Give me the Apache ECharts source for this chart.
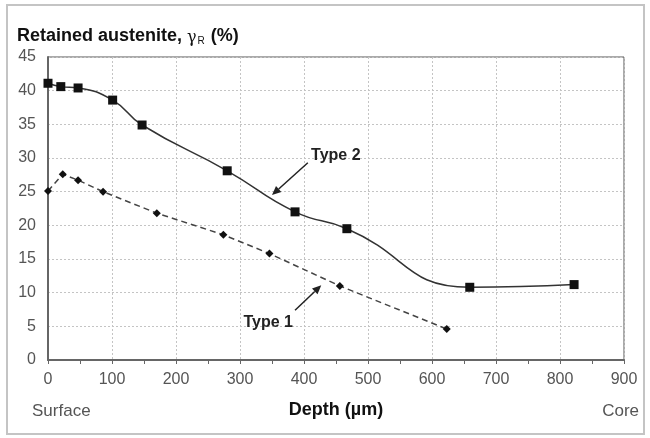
<!DOCTYPE html>
<html>
  <head>
    <meta charset="utf-8" />
    <title></title>
    <style type="text/css">
      html,
      body {
        margin: 0;
        width: 100%;
        height: 100%;
        background: #fff;
      }
      #chart {
        width: 650px;
        height: 438px;
      }
    </style>
  </head>
  <body>
    <div id="chart"></div>
    <script src="https://cdn.jsdelivr.net/npm/echarts@6/dist/echarts.min.js"></script>
    <script type="text/javascript">
      // 数据 (depth µm, retained austenite %)
      var type2Depth = [0, 20, 47, 101, 147, 280, 386, 467, 659, 822];
      var type2Value = [41.1, 40.6, 40.4, 38.6, 34.9, 28.1, 22.0, 19.5, 10.8, 11.2];
      var type1Depth = [0, 23, 47, 86, 170, 274, 346, 456, 623];
      var type1Value = [25.1, 27.6, 26.7, 25.0, 21.8, 18.6, 15.8, 11.0, 4.6];

      // 注释箭头 (数据坐标)
      var notes = [
        { text: "Type 2", label: [411, 30.4], from: [406, 29.3], to: [350, 24.5], align: "left" },
        { text: "Type 1", label: [344, 5.5], from: [386, 7.4], to: [427, 11.1], align: "center" },
      ];

      var fontFamily = "Liberation Sans, Arial, sans-serif";

      function pairs(xs, ys) {
        return xs.map(function (x, i) {
          return [x, ys[i]];
        });
      }

      var chart = echarts.init(document.getElementById("chart"));

      var option = {
        animation: false,
        backgroundColor: "#fff",
        grid: {
          left: 48,
          top: 57,
          right: 26,
          bottom: 78,
          show: true,
          borderColor: "#555",
          borderWidth: 1,
        },
        xAxis: {
          type: "value",
          min: 0,
          max: 900,
          interval: 100,
          axisLine: { onZero: false, lineStyle: { color: "#666", width: 2 } },
          axisTick: { show: true, length: 4, lineStyle: { color: "#666" } },
          minorTick: { show: true, splitNumber: 2, length: 4, lineStyle: { color: "#666" } },
          axisLabel: { color: "#555", fontSize: 16, margin: 12, fontFamily: fontFamily },
          splitLine: { show: true, lineStyle: { color: "#c4c4c4", type: [2, 2] } },
        },
        yAxis: {
          type: "value",
          min: 0,
          max: 45,
          interval: 5,
          axisLine: { onZero: false, lineStyle: { color: "#666", width: 2 } },
          axisTick: { show: false },
          axisLabel: { color: "#555", fontSize: 16, margin: 12, fontFamily: fontFamily },
          splitLine: { show: true, lineStyle: { color: "#c4c4c4", type: [2, 2] } },
        },
        series: [
          {
            name: "Type 2",
            type: "line",
            smooth: 0.5,
            data: pairs(type2Depth, type2Value),
            symbol: "rect",
            symbolSize: 9,
            itemStyle: { color: "#111" },
            lineStyle: { color: "#333", width: 1.5 },
          },
          {
            name: "Type 1",
            type: "line",
            data: pairs(type1Depth, type1Value),
            symbol: "diamond",
            symbolSize: 8,
            itemStyle: { color: "#111" },
            lineStyle: { color: "#444", width: 1.5, type: [6, 4] },
          },
        ],
      };

      chart.setOption(option);

      // 注释与标题 (graphic)
      var graphics = [
        {
          type: "rect",
          shape: { x: 7, y: 5, width: 637, height: 429 },
          style: { fill: null, stroke: "#c4c4c4", lineWidth: 2 },
          z: -1,
        },
        {
          type: "text",
          left: 17,
          top: 27,
          style: {
            text: "{b|Retained austenite, }{g|γ}{s|R}{b| (%)}",
            rich: {
              b: { fontSize: 18, fontWeight: "bold", fill: "#111", fontFamily: fontFamily },
              g: { fontSize: 16, fill: "#111", fontFamily: "DejaVu Serif, serif", padding: [4, 0, 0, 0] },
              s: { fontSize: 10, fill: "#111", fontFamily: fontFamily, padding: [10, 1, 0, 1] },
            },
          },
        },
        {
          type: "text",
          x: 336,
          y: 410,
          style: {
            text: "Depth (µm)",
            fontSize: 18,
            fontWeight: "bold",
            fill: "#111",
            fontFamily: fontFamily,
            align: "center",
            verticalAlign: "middle",
          },
        },
        {
          type: "text",
          x: 32,
          y: 411,
          style: { text: "Surface", fontSize: 17, fill: "#555", fontFamily: fontFamily, verticalAlign: "middle" },
        },
        {
          type: "text",
          x: 639,
          y: 411,
          style: { text: "Core", fontSize: 17, fill: "#555", fontFamily: fontFamily, align: "right", verticalAlign: "middle" },
        },
      ];

      notes.forEach(function (n) {
        var p = chart.convertToPixel({ gridIndex: 0 }, n.label);
        var a = chart.convertToPixel({ gridIndex: 0 }, n.from);
        var b = chart.convertToPixel({ gridIndex: 0 }, n.to);
        var ang = Math.atan2(b[1] - a[1], b[0] - a[0]);
        var len = 9,
          wid = 4;
        var bx = b[0] - len * Math.cos(ang),
          by = b[1] - len * Math.sin(ang);
        graphics.push({
          type: "text",
          x: p[0],
          y: p[1],
          style: {
            text: n.text,
            fontSize: 16,
            fontWeight: "bold",
            fill: "#222",
            fontFamily: fontFamily,
            align: n.align,
            verticalAlign: "middle",
          },
        });
        graphics.push({
          type: "line",
          shape: { x1: a[0], y1: a[1], x2: bx, y2: by },
          style: { stroke: "#222", lineWidth: 1.5 },
        });
        graphics.push({
          type: "polygon",
          shape: {
            points: [
              [b[0], b[1]],
              [bx + wid * Math.sin(ang), by - wid * Math.cos(ang)],
              [bx - wid * Math.sin(ang), by + wid * Math.cos(ang)],
            ],
          },
          style: { fill: "#222" },
        });
      });

      chart.setOption({ graphic: graphics });
    </script>
  </body>
</html>
